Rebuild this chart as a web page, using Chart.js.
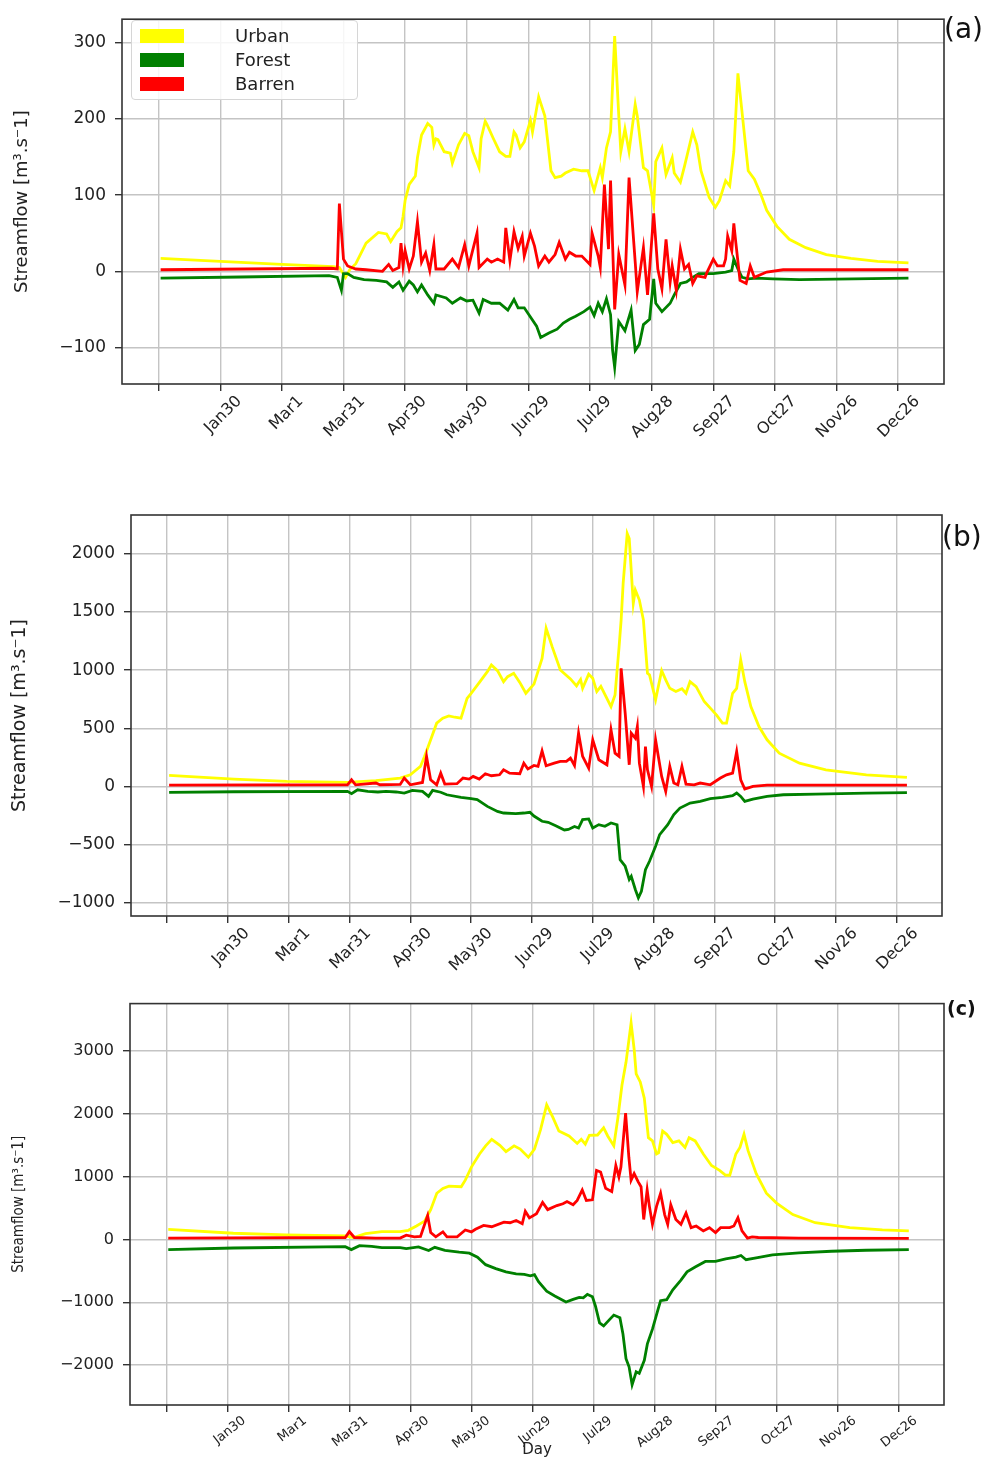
<!DOCTYPE html>
<html>
<head>
<meta charset="utf-8">
<script src="https://cdn.jsdelivr.net/npm/chart.js@4.4.1/dist/chart.umd.min.js"></script>
<style>
  body { margin: 0; background: #fff; }
  #wrap { position: relative; width: 992px; height: 1459px; overflow: hidden; }
  canvas { position: absolute; left: 0; }
  .tag { position: absolute; font-family: "DejaVu Sans", sans-serif; color: #111; }
  #legend { position: absolute; left: 131px; top: 20px; width: 225px; height: 78px;
            border: 1px solid #d6d6d6; border-radius: 4px; background: rgba(255,255,255,0.85);
            font-family: "DejaVu Sans", sans-serif; font-size: 18px; color: #222; }
  #legend .row { position: absolute; left: 0; height: 20px; width: 100%; }
  #legend .patch { position: absolute; left: 8px; top: 3px; width: 44px; height: 14px; }
  #legend .name { position: absolute; left: 103px; top: -1px; }
</style>
</head>
<body>
<div id="wrap">
  <canvas id="chartA" width="992" height="450" style="top:0px"></canvas>
  <canvas id="chartB" width="992" height="490" style="top:495px"></canvas>
  <canvas id="chartC" width="992" height="474" style="top:985px"></canvas>
  <div id="legend"></div>
  <div class="tag" style="left:944px;top:12px;font-size:28px">(a)</div>
  <div class="tag" style="left:942px;top:520px;font-size:28px">(b)</div>
  <div class="tag" style="left:947px;top:997px;font-size:19px;font-weight:bold">(c)</div>
</div>
<script>
const seriesNames = ['Urban', 'Forest', 'Barren'];
const seriesColors = ['#ffff00', '#008000', '#ff0000'];
const seriesOrder = [3, 2, 1];

const dayTicks = [0, 30, 60, 90, 120, 150, 180, 210, 240, 270, 300, 330, 360];
const dayLabels = ['', 'Jan30', 'Mar1', 'Mar31', 'Apr30', 'May30', 'Jun29', 'Jul29', 'Aug28', 'Sep27', 'Oct27', 'Nov26', 'Dec26'];

const yTicksA = [-100, 0, 100, 200, 300];
const yTicksB = [-1000, -500, 0, 500, 1000, 1500, 2000];
const yTicksC = [-2000, -1000, 0, 1000, 2000, 3000];

// panel (a) [day, streamflow]
const urbanA = [[1,17],[30,13],[60,9],[85,6],[88,5],[91,-8],[93,2],[96,10],[101,37],[107,51],[111,49],[113,39],[116,52],[118,57],[119,72],[120,93],[122,114],[125,125],[126,149],[128,179],[131,194],[133,189],[134,166],[135,174],[136,173],[139,157],[142,155],[143,142],[146,166],[149,181],[151,178],[153,157],[156,136],[157,174],[159,197],[160,192],[163,174],[166,157],[169,151],[171,151],[173,183],[174,179],[176,162],[178,170],[181,198],[182,183],[185,229],[188,204],[191,132],[193,123],[196,125],[198,129],[202,134],[206,132],[209,132],[212,106],[215,136],[216,123],[218,162],[220,183],[222,309],[224,204],[225,157],[227,187],[229,157],[232,219],[233,204],[236,136],[238,132],[241,87],[242,144],[245,162],[246,144],[247,127],[250,149],[251,129],[254,117],[256,138],[260,183],[262,166],[264,132],[268,97],[271,84],[273,93],[276,119],[278,112],[280,157],[282,260],[284,209],[287,132],[290,121],[293,102],[296,80],[301,59],[307,42],[315,31],[325,22],[337,17],[350,13],[365,11]];
const forestA = [[1,-9],[40,-7.5],[83,-5.6],[87,-8],[89,-25],[90,-3],[92,-3],[95,-8],[100,-11],[106,-12],[111,-14],[114,-21],[117,-14],[119,-25],[122,-13],[124,-18],[126,-27],[128,-18],[131,-31],[134,-42],[135,-31],[140,-35],[143,-42],[147,-35],[150,-39],[153,-38],[156,-55],[158,-37],[162,-42],[166,-42],[170,-51],[173,-37],[175,-48],[178,-48],[181,-60],[184,-72],[186,-87],[190,-81],[194,-76],[197,-68],[200,-63],[203,-59],[207,-53],[210,-47],[212,-58],[214,-42],[216,-53],[218,-36],[220,-57],[221,-104],[222,-126],[224,-66],[227,-78],[230,-51],[232,-104],[234,-96],[236,-70],[239,-63],[241,-10],[242,-42],[245,-53],[249,-42],[251,-31],[254,-16],[257,-14],[260,-8],[263,-3],[270,-3],[276,-1],[279,1],[280,16],[282,3],[284,-8],[287,-10],[291,-9],[299,-10],[312,-11],[365,-9]];
const barrenA = [[1,2],[84,4],[87,3],[88,89],[90,16],[92,7],[96,3],[101,2],[109,0],[112,9],[114,1],[117,5],[118,37],[119,7],[120,27],[122,3],[124,20],[126,65],[128,12],[130,24],[132,1],[134,35],[135,3],[139,3],[143,16],[146,5],[149,35],[151,7],[152,18],[155,50],[156,5],[160,16],[162,12],[165,16],[168,12],[169,57],[171,14],[173,52],[175,30],[177,46],[178,20],[181,50],[183,33],[185,7],[188,20],[190,12],[193,22],[195,38],[198,16],[200,25],[203,20],[206,20],[210,9],[211,50],[214,20],[215,5],[217,114],[219,29],[220,119],[222,-50],[224,22],[227,-18],[229,123],[232,12],[233,-27],[236,31],[238,-31],[239,3],[241,76],[243,3],[245,-23],[247,42],[249,-14],[250,7],[252,-25],[254,29],[256,3],[258,9],[260,-16],[262,-6],[266,-8],[267,-1],[270,16],[272,7],[275,7],[276,16],[277,46],[279,27],[280,63],[281,37],[283,-12],[286,-16],[288,7],[290,-8],[296,-1],[304,2],[320,2],[365,2]];

// panel (b)
const urbanB = [[1,94],[33,63],[59,43],[89,34],[103,49],[115,72],[120,100],[125,172],[127,258],[130,400],[133,544],[136,587],[139,607],[142,595],[145,587],[148,758],[150,801],[154,893],[158,987],[160,1045],[163,996],[166,901],[168,944],[171,973],[174,895],[177,801],[181,880],[185,1100],[187,1360],[190,1200],[194,1002],[199,925],[202,865],[204,920],[205,844],[208,965],[210,930],[212,816],[214,860],[219,687],[221,787],[223,1202],[224,1431],[225,1746],[227,2175],[228,2132],[230,1574],[231,1689],[233,1603],[235,1431],[237,973],[238,960],[241,744],[242,830],[244,996],[246,916],[248,844],[251,816],[254,840],[256,801],[258,901],[261,859],[265,730],[268,673],[271,615],[274,544],[276,544],[279,801],[281,844],[283,1088],[285,901],[288,687],[292,515],[296,401],[302,286],[312,200],[325,143],[345,100],[365,77]];
const forestB = [[1,-52],[33,-46],[89,-43],[91,-63],[94,-29],[99,-43],[104,-48],[108,-43],[113,-48],[117,-57],[121,-34],[126,-43],[129,-86],[131,-34],[135,-50],[138,-72],[145,-94],[150,-106],[153,-114],[158,-172],[163,-215],[166,-229],[172,-235],[176,-229],[179,-223],[181,-255],[185,-300],[188,-309],[192,-340],[196,-375],[198,-370],[201,-345],[203,-358],[205,-286],[208,-280],[210,-358],[213,-329],[216,-343],[219,-315],[222,-330],[223.5,-630],[226,-687],[228,-801],[229,-773],[231,-887],[232.5,-959],[234,-902],[236,-716],[238,-644],[241,-515],[243,-415],[247,-329],[250,-243],[253,-186],[258,-143],[263,-129],[268,-106],[274,-94],[279,-80],[281,-57],[283,-86],[285,-129],[289,-109],[296,-86],[304,-72],[320,-66],[345,-57],[365,-54]];
const barrenB = [[1,11],[89,14],[91,57],[93,14],[103,29],[105,14],[115,17],[117,72],[120,14],[126,34],[128,258],[130,57],[133,14],[135,114],[137,20],[143,23],[146,72],[149,63],[151,86],[154,63],[157,109],[160,92],[164,100],[166,143],[169,114],[174,109],[176,200],[178,150],[181,180],[183,172],[185,305],[187,177],[191,200],[194,215],[197,215],[199,243],[201,180],[203,458],[205,258],[208,157],[210,400],[213,229],[217,186],[219,487],[221,286],[223,258],[224,1016],[226,630],[228,186],[229,458],[231,415],[232,515],[233,200],[235,0],[236,343],[237,143],[239,0],[241,400],[244,86],[246,-43],[248,172],[250,29],[252,14],[254,172],[256,20],[260,14],[263,29],[268,14],[273,72],[276,100],[279,114],[281,300],[283,57],[285,-23],[289,0],[296,11],[365,11]];

// panel (c)
const urbanC = [[1,162],[33,99],[59,73],[88,57],[92,31],[98,94],[106,125],[115,125],[119,146],[123,214],[127,292],[130,475],[133,736],[136,814],[139,850],[145,840],[147,944],[150,1153],[154,1362],[157,1492],[160,1596],[164,1500],[167,1400],[171,1492],[174,1440],[178,1310],[181,1440],[184,1750],[187,2144],[190,1950],[193,1727],[198,1649],[202,1530],[204,1596],[206,1518],[208,1660],[212,1664],[215,1779],[217,1649],[220,1492],[222,1935],[224,2457],[226,2822],[228.5,3448],[230,3031],[231,2640],[233,2509],[235,2248],[237,1622],[239,1570],[241,1362],[242,1380],[244,1727],[246,1675],[249,1544],[252,1570],[255,1466],[257,1622],[260,1570],[264,1362],[268,1179],[272,1101],[275,1023],[277,1023],[280,1362],[282,1466],[284,1675],[286,1414],[290,1049],[295,736],[300,579],[308,396],[319,266],[336,188],[352,151],[365,136]];
const forestC = [[1,-162],[33,-136],[88,-115],[91,-162],[95,-99],[101,-110],[106,-130],[115,-130],[118,-146],[124,-120],[129,-177],[132,-125],[137,-175],[144,-203],[149,-219],[153,-282],[157,-402],[162,-464],[167,-516],[172,-550],[176,-558],[179,-579],[181,-560],[183,-673],[187,-825],[191,-900],[196.5,-996],[200,-955],[203,-923],[205,-930],[207,-875],[209.5,-915],[211,-1064],[213,-1330],[215,-1377],[218,-1273],[220,-1205],[223,-1247],[224.5,-1508],[226,-1899],[227.5,-2030],[229,-2316],[231,-2108],[232.5,-2134],[235,-1925],[236.5,-1664],[239,-1429],[241.5,-1142],[243,-976],[246,-960],[249,-803],[253,-647],[256,-516],[260,-438],[265,-350],[270,-350],[275,-308],[280,-282],[282.5,-256],[285,-323],[290,-292],[298,-245],[311,-214],[327,-188],[344,-172],[365,-162]];
const barrenC = [[1,21],[88,31],[90,125],[92.5,31],[103,21],[115,21],[118,68],[122,42],[125,47],[128.5,381],[130,110],[132.5,42],[136,120],[138,42],[143,42],[147,151],[150,120],[152,162],[156,224],[160,203],[166,276],[169,266],[172,303],[175,250],[176.5,449],[178.5,344],[182,410],[185,590],[187.5,475],[192,540],[195,569],[197,605],[200,553],[202,621],[204.5,788],[206.5,621],[209.5,631],[211.5,1101],[213.5,1075],[216,814],[219,762],[221,1179],[222.5,996],[223.5,1153],[225.8,2014],[227.4,1310],[228.5,944],[230,1049],[232,918],[233.4,840],[234.7,318],[236.4,788],[237.5,527],[239,240],[241,527],[243,736],[245,396],[246.5,240],[248,553],[250.5,318],[253,240],[255.5,422],[258,188],[260.5,214],[264,136],[267,188],[270,110],[272.5,188],[277,188],[279,214],[281,344],[283,136],[285.7,21],[288,42],[291,31],[311,21],[365,16]];

const yTitle = 'Streamflow [m\u00b3.s\u207b1]';

// matplotlib-like box around the axes
const framePlugin = {
    id: 'frame',
    afterDraw(chart) {
        const a = chart.chartArea;
        const ctx = chart.ctx;
        ctx.save();
        ctx.strokeStyle = '#333';
        ctx.lineWidth = 1.6;
        ctx.strokeRect(a.left, a.top, a.right - a.left, a.bottom - a.top);
        ctx.restore();
    }
};

function minusLabel(v) {
    return v < 0 ? '\u2212' + Math.abs(v) : String(v);
}

function buildChart(id, cfg) {
    return new Chart(document.getElementById(id), {
        type: 'line',
        data: {
            datasets: seriesNames.map((name, i) => ({
                label: name,
                data: cfg.series[i],
                borderColor: seriesColors[i],
                backgroundColor: seriesColors[i],
                borderWidth: 2.8,
                pointRadius: 0,
                tension: 0,
                fill: false,
                order: seriesOrder[i]
            }))
        },
        options: {
            responsive: false,
            animation: false,
            events: [],
            layout: {padding: {left: 0, right: cfg.padRight, top: cfg.padTop, bottom: 0}},
            plugins: {legend: {display: false}, tooltip: {enabled: false}},
            scales: {
                x: {
                    type: 'linear',
                    min: -17.8,
                    max: 382.3,
                    afterBuildTicks: axis => { axis.ticks = dayTicks.map(v => ({value: v})); },
                    afterFit: axis => { axis.height = cfg.xHeight; },
                    ticks: {
                        autoSkip: false,
                        minRotation: cfg.rot,
                        maxRotation: cfg.rot,
                        labelOffset: cfg.labelOffset,
                        padding: 1,
                        color: '#222',
                        font: {family: 'DejaVu Sans', size: cfg.xFont},
                        callback: v => dayLabels[dayTicks.indexOf(v)]
                    },
                    grid: {color: '#c4c4c4', lineWidth: 1.4, tickColor: '#333', tickLength: 7, tickWidth: 1.4},
                    border: {display: false},
                    title: {
                        display: !!cfg.xTitle,
                        text: cfg.xTitle || '',
                        color: '#222',
                        font: {family: 'DejaVu Sans', size: 15},
                        padding: {top: 0, bottom: 0}
                    }
                },
                y: {
                    min: cfg.yMin,
                    max: cfg.yMax,
                    afterBuildTicks: axis => { axis.ticks = cfg.yTicks.map(v => ({value: v})); },
                    afterFit: axis => { axis.width = cfg.yWidth; },
                    ticks: {
                        padding: 9,
                        color: '#222',
                        font: {family: 'DejaVu Sans', size: cfg.yFont},
                        callback: v => minusLabel(v)
                    },
                    grid: {color: '#c4c4c4', lineWidth: 1.4, tickColor: '#333', tickLength: 7, tickWidth: 1.4},
                    border: {display: false},
                    title: {
                        display: true,
                        text: yTitle,
                        color: '#222',
                        font: cfg.titleFont,
                        padding: {top: cfg.titlePad, bottom: 0}
                    }
                }
            }
        },
        plugins: [framePlugin]
    });
}

function buildLegend() {
    const box = document.getElementById('legend');
    seriesNames.forEach((name, i) => {
        const row = document.createElement('div');
        row.className = 'row';
        row.style.top = (5 + i * 24) + 'px';
        row.innerHTML = '<span class="patch" style="background:' + seriesColors[i] + '"></span>' +
            '<span class="name">' + name + '</span>';
        box.appendChild(row);
    });
}

buildChart('chartA', {
    series: [urbanA, forestA, barrenA],
    yTicks: yTicksA, yMin: -148, yMax: 331,
    padTop: 11, padRight: 48, yWidth: 122, xHeight: 66,
    rot: 45, labelOffset: 19, xFont: 16, yFont: 17,
    titleFont: {family: 'DejaVu Sans', size: 18}, titlePad: 12
});

buildChart('chartB', {
    series: [urbanB, forestB, barrenB],
    yTicks: yTicksB, yMin: -1115, yMax: 2335,
    padTop: 20, padRight: 50, yWidth: 131, xHeight: 69,
    rot: 45, labelOffset: 19, xFont: 16, yFont: 17,
    titleFont: {family: 'DejaVu Sans', size: 19}, titlePad: 9
});

buildChart('chartC', {
    series: [urbanC, forestC, barrenC],
    yTicks: yTicksC, yMin: -2638, yMax: 3758,
    padTop: 12, padRight: 48, yWidth: 130, xHeight: 54,
    rot: 38, labelOffset: 17, xFont: 13, yFont: 16,
    xTitle: 'Day',
    titleFont: {family: "'Liberation Sans Narrow', 'DejaVu Sans Condensed', 'Roboto Condensed', 'Liberation Sans', sans-serif", size: 15},
    titlePad: 10
});

buildLegend();
</script>
</body>
</html>
